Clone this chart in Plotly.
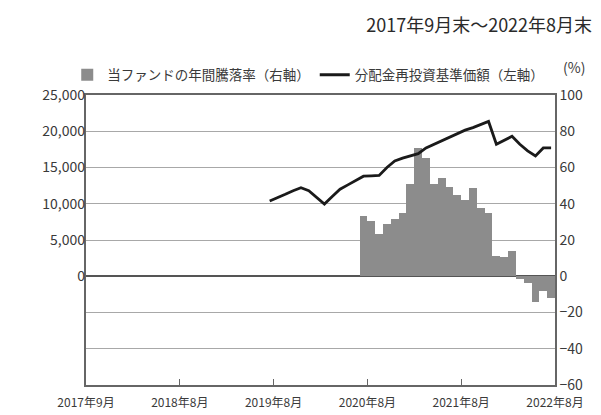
import plotly.graph_objects as go

# months from 2017-09 (index 0) to 2022-08 (index 59)
months = list(range(60))

# 分配金再投資基準価額 (left axis, yen) from 2019-08 (index 23)
nav_start = 23
nav_values = [10370, 10800, 11300, 11800, 12200, 11800, 10900, 9950, 11000, 12000,
              12600, 13200, 13800, 13850, 13900, 15000, 15900, 16300, 16600, 16900,
              17700, 18200, 18600, 19100, 19650, 20150, 20500, 20950, 21350, 18200,
              18800, 19300, 18200, 17300, 16600, 17700, 17700]

# 当ファンドの年間騰落率 (right axis, %) from 2020-08 (index 35)
ret_start = 35
ret_values = [33.5, 30.5, 23.5, 29, 31.5, 35, 51, 71, 65, 51, 54, 49, 45, 42,
              48.5, 37.5, 35, 11, 10.5, 14, -1.5, -3.5, -14, -8, -12]

tick_idx = [-0.5, 11.5, 23.5, 35.5, 47.5, 59.5]
tick_text = ["2017年9月", "2018年8月", "2019年8月", "2020年8月", "2021年8月", "2022年8月"]

left_ticks = [0, 5000, 10000, 15000, 20000, 25000]
right_ticks = [-60, -40, -20, 0, 20, 40, 60, 80, 100]

FONT = "Noto Sans CJK JP"
TXT = "#3a3a3a"

fig = go.Figure()
fig.add_trace(go.Bar(
    x=months[ret_start:ret_start + len(ret_values)],
    y=ret_values,
    name="当ファンドの年間騰落率（右軸）",
    marker=dict(color="#8c8c8c", line=dict(width=0)),
    yaxis="y",
))
fig.add_trace(go.Scatter(
    x=months[nav_start:nav_start + len(nav_values)],
    y=nav_values,
    name="分配金再投資基準価額（左軸）",
    mode="lines",
    line=dict(color="#1a1a1a", width=2.8),
    yaxis="y2",
))

# page body has an 8px default margin, so the figure is 8px smaller each way
fig.update_layout(
    width=593, height=407,
    margin=dict(l=78, r=46, t=87, b=30, autoexpand=False),
    paper_bgcolor="white", plot_bgcolor="white",
    font=dict(family=FONT, size=13, color=TXT),
    bargap=0,
    showlegend=True,
    legend=dict(orientation="h", x=-0.04, xanchor="left", y=1.069, yanchor="middle",
                font=dict(size=13.5, color=TXT), bgcolor="rgba(0,0,0,0)",
                itemwidth=30, tracegroupgap=0),
    title=dict(text="2017年9月末～2022年8月末", x=0.985, xanchor="right",
               y=1 - 18 / 407, yanchor="middle", font=dict(size=18, color="#2a2a2a")),
    xaxis=dict(range=[-0.5, 59.5], tickvals=tick_idx, ticktext=tick_text,
               ticks="inside", ticklen=6, tickcolor="#666", tickwidth=1.2,
               showline=True, linecolor="#666", linewidth=1.5, mirror=True,
               showgrid=False, zeroline=False, ticklabelstandoff=6, automargin=False,
               tickfont=dict(size=12, color=TXT)),
    yaxis=dict(side="right", range=[-60, 100], tickvals=right_ticks,
               showgrid=True, gridcolor="#a8a8a8", gridwidth=1.3,
               zeroline=True, zerolinecolor="#555", zerolinewidth=1.6,
               showline=True, linecolor="#666", linewidth=1.5, mirror=True,
               automargin=False, ticks="", tickfont=dict(size=14, color=TXT)),
    yaxis2=dict(overlaying="y", side="left", range=[-15000, 25000],
                tickvals=left_ticks, ticktext=[f"{v:,}" for v in left_ticks],
                showgrid=False, zeroline=False, showline=False, ticks="",
                automargin=False, tickfont=dict(size=14, color=TXT)),
    annotations=[dict(text="(%)", xref="paper", yref="paper", x=1.012, y=1.095,
                      xanchor="left", yanchor="middle", showarrow=False,
                      font=dict(size=14, color=TXT))],
)

fig.write_html("out.html")
